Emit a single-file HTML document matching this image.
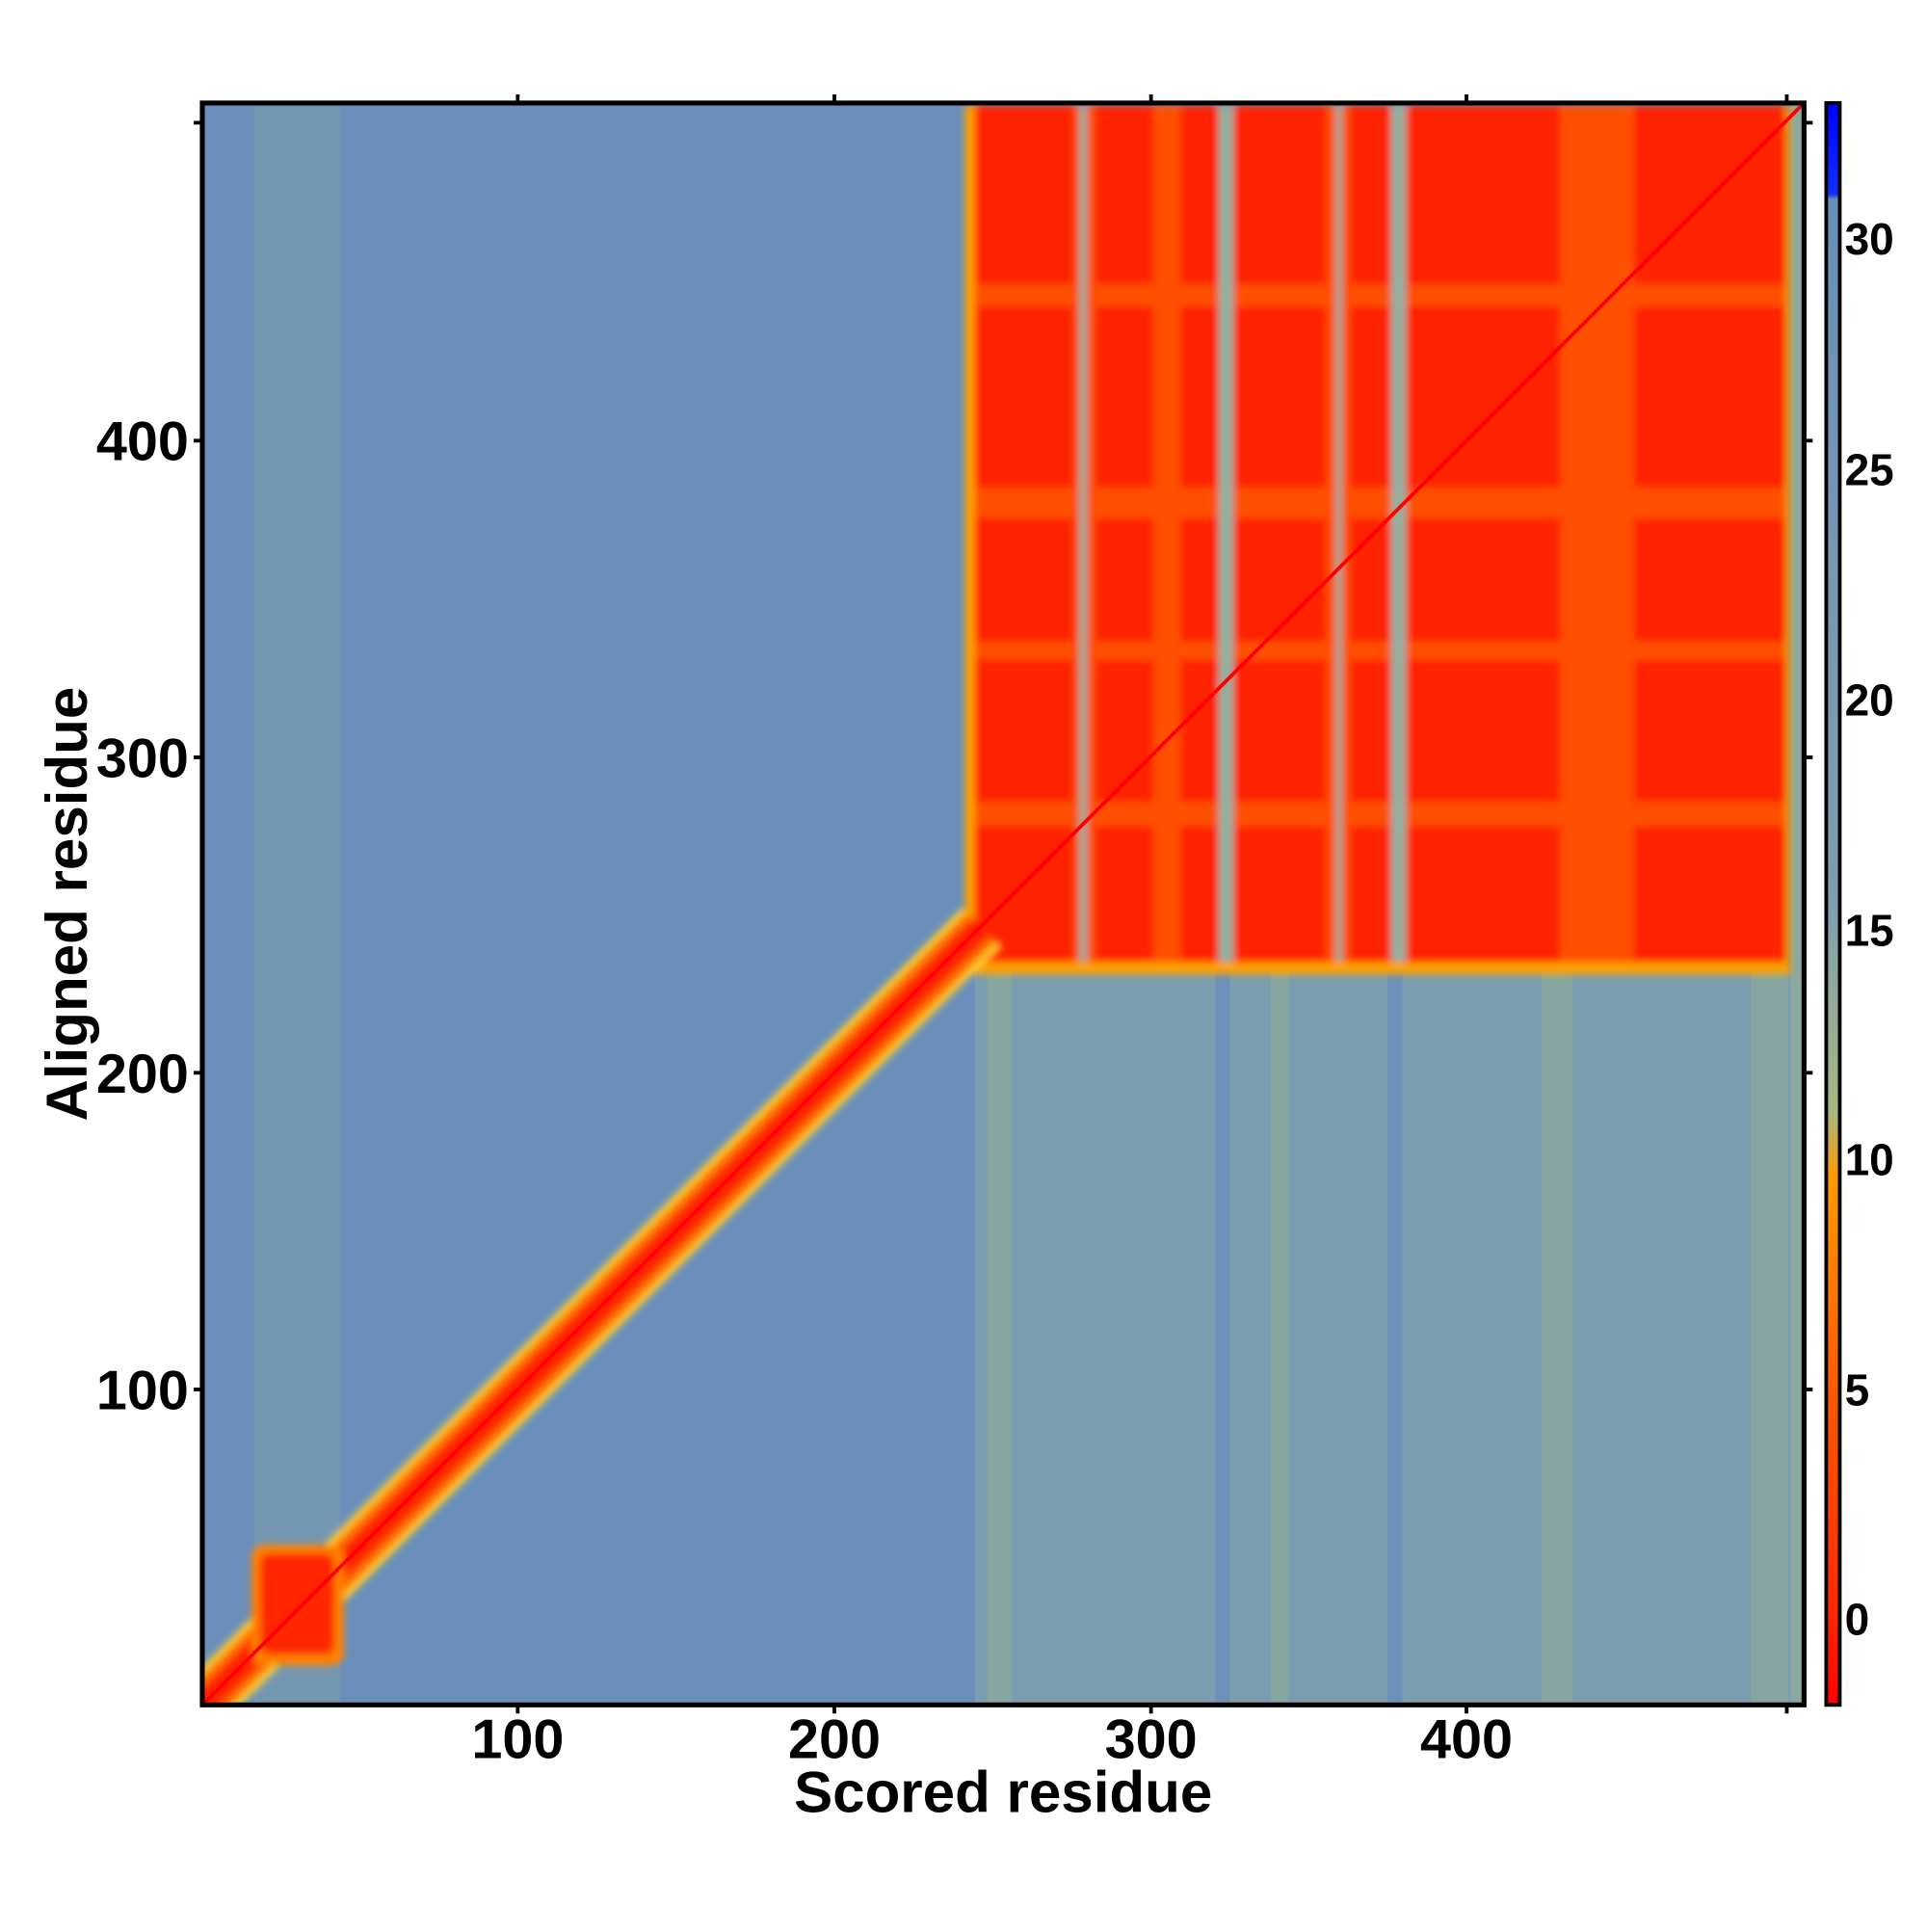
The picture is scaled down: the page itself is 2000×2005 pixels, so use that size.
<!DOCTYPE html>
<html><head><meta charset="utf-8"><style>html,body{margin:0;padding:0;background:#fff}</style></head>
<body>
<svg width="2000" height="2000" viewBox="0 0 1564 1564" xmlns="http://www.w3.org/2000/svg" font-family="Liberation Sans, sans-serif" font-weight="bold">
<defs>
<linearGradient id="cb" x1="0" y1="1" x2="0" y2="0">
<stop offset="0" stop-color="#ff0000"/>
<stop offset="0.06" stop-color="#ff2a00"/>
<stop offset="0.2" stop-color="#ff5a00"/>
<stop offset="0.33" stop-color="#ff9a00"/>
<stop offset="0.37" stop-color="#a8b880"/>
<stop offset="0.5" stop-color="#7f9fb0"/>
<stop offset="0.94" stop-color="#6a8fb8"/>
<stop offset="0.943" stop-color="#1030ff"/>
<stop offset="1" stop-color="#0000ff"/>
</linearGradient>
<filter id="bl"><feGaussianBlur stdDeviation="3"/></filter>
<clipPath id="pc"><rect x="163" y="83" width="1300" height="1300"/></clipPath>
</defs>
<g transform="translate(1.2,0.6)">
<g clip-path="url(#pc)">
<rect x="163" y="83" width="1300" height="1300" fill="#6a8fbb"/>
<rect x="205" y="83" width="70" height="1300" fill="#7d9fa8" opacity="0.5"/>
<rect x="790" y="785" width="673" height="598" fill="#7b9db0"/>
<g fill="#8fab98" opacity="0.6">
<rect x="800" y="785" width="20" height="598"/><rect x="1030" y="785" width="15" height="598"/>
<rect x="1250" y="785" width="25" height="598"/><rect x="1420" y="785" width="30" height="598"/>
</g>
<g fill="#6a8fbb" opacity="0.8">
<rect x="985" y="785" width="12" height="598"/><rect x="1125" y="785" width="12" height="598"/>
</g>
<rect x="1452" y="83" width="11" height="1300" fill="#8aa8a0"/>
<g filter="url(#bl)">
<rect x="782" y="85" width="670" height="705" fill="#ffa000"/>
<rect x="790" y="85" width="658" height="695" fill="#ff2000"/>
<g fill="#ff5000">
<rect x="870" y="85" width="18" height="695"/><rect x="935" y="85" width="22" height="695"/>
<rect x="1075" y="85" width="20" height="695"/><rect x="1265" y="85" width="60" height="695"/>
<rect x="790" y="230" width="658" height="18"/><rect x="790" y="395" width="658" height="25"/>
<rect x="790" y="520" width="658" height="15"/><rect x="790" y="650" width="658" height="20"/>
</g>
<g fill="#8fb0a0">
<rect x="875" y="85" width="6" height="695"/><rect x="988" y="85" width="12" height="695"/>
<rect x="1128" y="85" width="12" height="695"/><rect x="1083" y="85" width="5" height="695"/>
</g>
<line x1="163" y1="1383" x2="795" y2="752" stroke="#ffd030" stroke-width="44"/>
<line x1="163" y1="1383" x2="795" y2="752" stroke="#ff7000" stroke-width="34"/>
<line x1="163" y1="1383" x2="795" y2="752" stroke="#ff2000" stroke-width="20"/>
<rect x="203" y="1253" width="75" height="98" rx="10" fill="#ff8000"/>
<rect x="210" y="1260" width="60" height="82" rx="8" fill="#ff2800"/>
</g>
<line x1="163" y1="1383" x2="1463" y2="83" stroke="#ff0000" stroke-width="3"/>
</g>
<rect x="163" y="83" width="1300" height="1300" fill="none" stroke="#000" stroke-width="4"/>
<g stroke="#000" stroke-width="3">
<line x1="419" y1="1383" x2="419" y2="1390"/><line x1="676" y1="1383" x2="676" y2="1390"/>
<line x1="933" y1="1383" x2="933" y2="1390"/><line x1="1189" y1="1383" x2="1189" y2="1390"/><line x1="1449" y1="1383" x2="1449" y2="1390"/>
<line x1="419" y1="83" x2="419" y2="76"/><line x1="676" y1="83" x2="676" y2="76"/>
<line x1="933" y1="83" x2="933" y2="76"/><line x1="1189" y1="83" x2="1189" y2="76"/><line x1="1449" y1="83" x2="1449" y2="76"/>
<line x1="156" y1="357" x2="163" y2="357"/><line x1="156" y1="614" x2="163" y2="614"/>
<line x1="156" y1="870" x2="163" y2="870"/><line x1="156" y1="1127" x2="163" y2="1127"/><line x1="156" y1="99" x2="163" y2="99"/>
<line x1="1463" y1="357" x2="1470" y2="357"/><line x1="1463" y1="614" x2="1470" y2="614"/>
<line x1="1463" y1="870" x2="1470" y2="870"/><line x1="1463" y1="1127" x2="1470" y2="1127"/><line x1="1463" y1="99" x2="1470" y2="99"/>
</g>
<g font-size="45" text-anchor="middle">
<text x="419" y="1426">100</text><text x="676" y="1426">200</text><text x="933" y="1426">300</text><text x="1189" y="1426">400</text>
</g>
<g font-size="45" text-anchor="end">
<text x="152" y="373">400</text><text x="152" y="630">300</text><text x="152" y="886">200</text><text x="152" y="1143">100</text>
</g>
<text x="813" y="1470" font-size="47" text-anchor="middle">Scored residue</text>
<text transform="translate(69,733) rotate(-90)" font-size="47" text-anchor="middle">Aligned residue</text>
<rect x="1481" y="83" width="11" height="1300" fill="url(#cb)" stroke="#000" stroke-width="3"/>
<g font-size="36" text-anchor="start">
<text x="1496" y="206">30</text><text x="1496" y="393">25</text><text x="1496" y="580">20</text>
<text x="1496" y="767">15</text><text x="1496" y="953">10</text><text x="1496" y="1140">5</text><text x="1496" y="1326">0</text>
</g>
</g>
</svg>
</body></html>
